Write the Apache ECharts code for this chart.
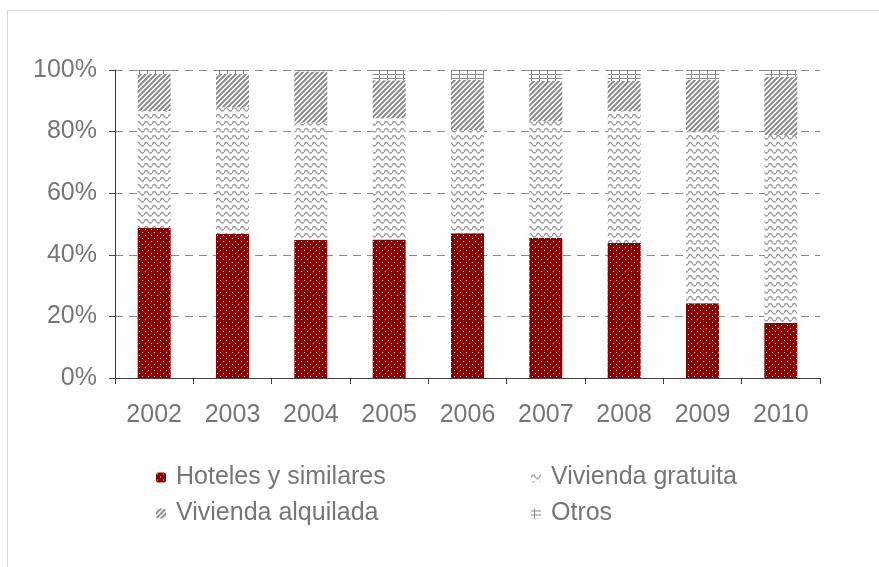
<!DOCTYPE html>
<html>
<head>
<meta charset="utf-8">
<script src="https://cdn.jsdelivr.net/npm/echarts@6/dist/echarts.min.js"></script>
<style>
  html, body { margin: 0; padding: 0; background: #fff; }
  #chart { width: 879px; height: 567px; }
</style>
</head>
<body>
<div id="chart"></div>
<script>
const years = ['2002', '2003', '2004', '2005', '2006', '2007', '2008', '2009', '2010'];
const hoteles = [48.7, 46.8, 44.8, 45.0, 47.0, 45.5, 43.8, 24.3, 17.9];
const gratuita = [38.0, 41.1, 38.1, 39.3, 33.5, 37.9, 42.9, 55.7, 61.0];
const alquilada = [12.0, 10.8, 16.6, 12.4, 16.3, 13.0, 9.7, 16.8, 18.9];
const otros = [1.3, 1.3, 0.5, 3.3, 3.2, 3.6, 3.6, 3.2, 2.2];
const yTicks = [0, 20, 40, 60, 80, 100];

// small canvas tiles used as fill patterns
function tile(w, h, draw) {
  const c = document.createElement('canvas');
  c.width = w; c.height = h;
  draw(c.getContext('2d'));
  return { image: c, repeat: 'repeat' };
}

const dots = tile(6, 6, ctx => {
  ctx.fillStyle = '#8b0000';
  ctx.fillRect(0, 0, 6, 6);
  ctx.fillStyle = '#e8caca';
  ctx.fillRect(1, 1, 1, 1);
  ctx.fillRect(4, 4, 1, 1);
});

const waves = tile(8, 7, ctx => {
  ctx.fillStyle = '#fff';
  ctx.fillRect(0, 0, 8, 7);
  ctx.strokeStyle = '#9a9a9a';
  ctx.lineWidth = 1.4;
  ctx.beginPath();
  ctx.moveTo(0, 5);
  ctx.quadraticCurveTo(2, 0.5, 4, 4);
  ctx.quadraticCurveTo(6, 7.5, 8, 5);
  ctx.stroke();
});

const stripes = tile(5, 5, ctx => {
  ctx.fillStyle = '#fff';
  ctx.fillRect(0, 0, 5, 5);
  ctx.strokeStyle = '#8c8c8c';
  ctx.lineWidth = 2;
  ctx.beginPath();
  ctx.moveTo(-1, 6); ctx.lineTo(6, -1);
  ctx.moveTo(-1, 1); ctx.lineTo(1, -1);
  ctx.moveTo(4, 6); ctx.lineTo(6, 4);
  ctx.stroke();
});

const grid = tile(8, 4, ctx => {
  ctx.fillStyle = '#fff';
  ctx.fillRect(0, 0, 8, 4);
  ctx.fillStyle = '#8c8c8c';
  ctx.fillRect(3, 0, 1, 4);
  ctx.fillRect(0, 2, 8, 1);
});

const chart = echarts.init(document.getElementById('chart'));

const textColor = '#767676';
const font = 'Liberation Sans, Arial, sans-serif';
const fontSize = 25;

function bar(name, data, color) {
  return {
    name: name,
    type: 'bar',
    stack: 'total',
    barWidth: 33,
    data: data,
    itemStyle: { color: color },
    emphasis: { disabled: true }
  };
}

function legendAt(left, names) {
  return {
    left: left,
    top: 460,
    orient: 'vertical',
    itemGap: 11,
    itemWidth: 10,
    itemHeight: 10,
    data: names,
    textStyle: { color: textColor, fontSize: fontSize, fontFamily: font, padding: [0, 0, 0, 5] }
  };
}

chart.setOption({
  animation: false,
  grid: { left: 115, right: 59, top: 70, bottom: 189 },
  graphic: [{
    type: 'rect',
    shape: { x: 7.5, y: 10.5, width: 900, height: 600 },
    style: { fill: 'none', stroke: '#d9d9d9', lineWidth: 1 },
    silent: true
  }],
  legend: [
    legendAt(151, ['Hoteles y similares', 'Vivienda alquilada']),
    legendAt(526, ['Vivienda gratuita', 'Otros'])
  ],
  xAxis: {
    type: 'category',
    data: years,
    axisLine: { lineStyle: { color: '#404040', width: 1 } },
    axisTick: { show: true, length: 6, lineStyle: { color: '#404040' } },
    axisLabel: { color: textColor, fontSize: fontSize, fontFamily: font, margin: 25 }
  },
  yAxis: {
    type: 'value',
    min: 0,
    max: 100,
    interval: 20,
    axisLine: { show: true, lineStyle: { color: '#404040', width: 1 } },
    axisTick: { show: true, length: 6, lineStyle: { color: '#404040' } },
    axisLabel: {
      color: textColor, fontSize: fontSize, fontFamily: font, margin: 18,
      formatter: v => yTicks.includes(v) ? v + '%' : ''
    },
    splitLine: { lineStyle: { color: '#888', type: [8, 6] } }
  },
  series: [
    bar('Hoteles y similares', hoteles, dots),
    bar('Vivienda gratuita', gratuita, waves),
    bar('Vivienda alquilada', alquilada, stripes),
    bar('Otros', otros, grid)
  ]
});
</script>
</body>
</html>
